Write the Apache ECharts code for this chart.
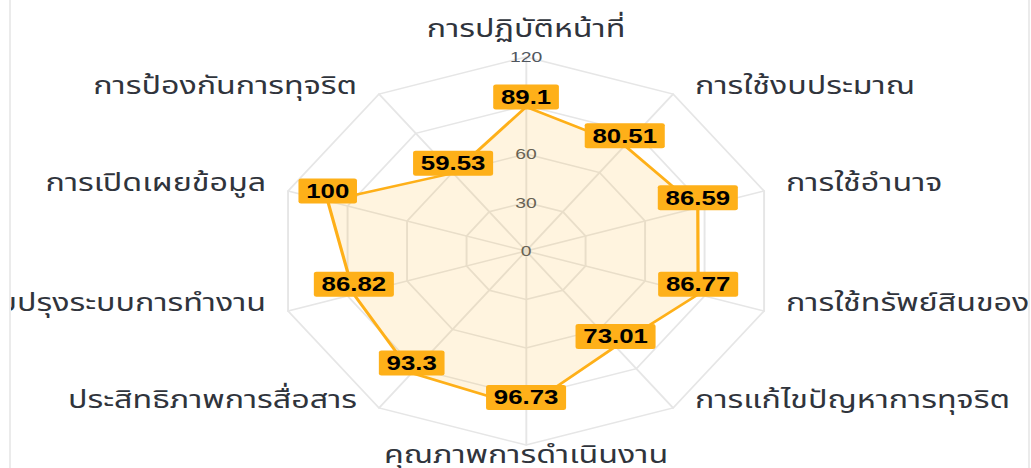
<!DOCTYPE html>
<html><head><meta charset="utf-8">
<script src="https://cdn.jsdelivr.net/npm/echarts@6/dist/echarts.min.js"></script>
<style>
html,body{margin:0;padding:0;width:1031px;height:468px;overflow:hidden;background:#fff;}
#wrap{position:absolute;left:9px;top:-2px;width:1021px;height:472px;box-sizing:border-box;border-left:2px solid #ebebeb;border-right:2px solid #ebebeb;overflow:hidden;}
#chart{position:absolute;left:-11px;top:2px;width:800px;height:468px;transform:scaleX(1.29);transform-origin:0 0;}
</style></head><body><div id="wrap"><div id="chart"></div></div>
<script>
// clockwise from the top
const categories = [
  'การปฏิบัติหน้าที่',
  'การใช้งบประมาณ',
  'การใช้อำนาจ',
  'การใช้ทรัพย์สินของราชการ',
  'การแก้ไขปัญหาการทุจริต',
  'คุณภาพการดำเนินงาน',
  'ประสิทธิภาพการสื่อสาร',
  'การปรับปรุงระบบการทำงาน',
  'การเปิดเผยข้อมูล',
  'การป้องกันการทุจริต'
];
const scores = [89.1, 80.51, 86.59, 86.77, 73.01, 96.73, 93.3, 86.82, 100, 59.53];
const axisTicks = [0, 30, 60, 90, 120];
const visibleTickLabels = [0, 30, 60, 120]; // 90 is hidden under a value label in the reference

const thaiFont = '"Noto Sans Thai", "Noto Sans Thai UI", "Noto Sans", sans-serif';
// ECharts lays indicators counter-clockwise; reorder to get clockwise layout
const order = categories.map((_, i) => (categories.length - i) % categories.length);
const indicator = order.map(i => {
  const o = {name: categories[i], min: axisTicks[0], max: axisTicks[axisTicks.length - 1]};
  if (i === 0) o.axisLabel = {show: true};
  return o;
});
const values = order.map(i => scores[i]);

const chart = echarts.init(document.getElementById('chart'), null, {renderer: 'svg'});
chart.setOption({
  animation: false,
  backgroundColor: '#fff',
  radar: {
    center: [407.8, 251],
    radius: 194,
    startAngle: 90,
    splitNumber: axisTicks.length - 1,
    shape: 'polygon',
    indicator: indicator,
    nameGap: 0,
    axisName: {
      color: '#30343c', fontSize: 25, fontFamily: thaiFont, padding: [0, 17, 0, 17],
      formatter: function (name) {
        const k = categories.indexOf(name);
        if (k === 0) return '{n|' + name + '}\n{t|}';
        if (k === 5) return '{b|' + name + '}';
        return '{n|' + name + '}\n{s|}';
      },
      rich: {
        n: {color: '#30343c', fontSize: 25, fontFamily: thaiFont},
        b: {color: '#30343c', fontSize: 25, fontFamily: thaiFont, lineHeight: 20},
        s: {height: 16, lineHeight: 16, fontSize: 10},
        t: {height: 8, lineHeight: 8, fontSize: 8}
      }
    },
    splitLine: {lineStyle: {color: '#e6e6e6', width: 1.5}},
    splitArea: {show: false},
    axisLine: {lineStyle: {color: '#e6e6e6', width: 1.5}},
    axisTick: {show: false},
    axisLabel: {
      show: false, color: '#50565e', fontSize: 15, margin: 0, align: 'center', verticalAlign: 'middle',
      fontFamily: 'Liberation Sans, Arial, sans-serif',
      formatter: function (v) { return visibleTickLabels.indexOf(v) >= 0 ? String(v) : ''; }
    }
  },
  series: [{
    type: 'radar',
    symbol: 'circle',
    symbolSize: 0,
    lineStyle: {color: '#FEB019', width: 2.5},
    itemStyle: {color: '#FEB019'},
    areaStyle: {color: 'rgba(254,176,25,0.2)'},
    label: {
      show: true, position: 'inside', offset: [0, -10],
      backgroundColor: '#FEB019', borderRadius: 2, padding: [3, 6, 2, 6],
      color: '#000', fontWeight: 'bold', fontSize: 20, lineHeight: 20,
      fontFamily: 'Liberation Sans, Arial, sans-serif'
    },
    data: [{value: values, name: 'คะแนน'}]
  }]
});
</script>
</body></html>
